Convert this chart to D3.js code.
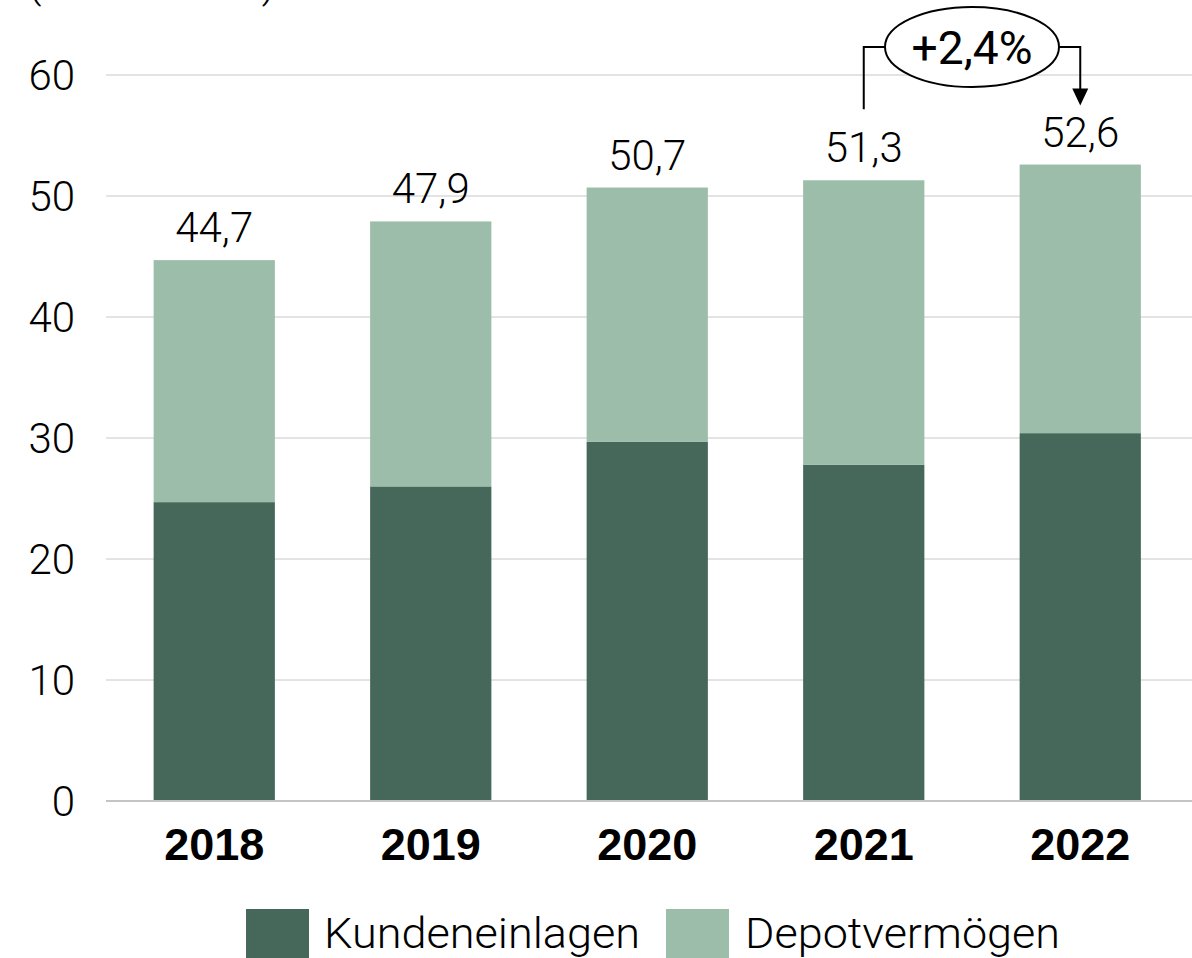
<!DOCTYPE html>
<html>
<head>
<meta charset="utf-8">
<script src="https://cdn.jsdelivr.net/npm/d3@7"></script>
<style>
  html, body { margin: 0; padding: 0; background: #fff; }
  svg { display: block; font-family: "Helvetica Neue", Roboto, "Liberation Sans", Arial, sans-serif; }
</style>
</head>
<body>
<svg id="chart" width="1192" height="958"></svg>
<script>
// data
var years = ["2018", "2019", "2020", "2021", "2022"];
var kundeneinlagen = [24.7, 26.0, 29.7, 27.8, 30.4];
var totals = [44.7, 47.9, 50.7, 51.3, 52.6];
var depotvermoegen = totals.map((t, i) => +(t - kundeneinlagen[i]).toFixed(1));
var yTicks = [0, 10, 20, 30, 40, 50, 60];
var seriesNames = ["Kundeneinlagen", "Depotvermögen"];
var growthLabel = "+2,4%";
var unitLabel = "(in Mrd. Euro)";

var colorDark = "#45685a";
var colorLight = "#9cbdaa";

var width = 1192;
var height = 958;

var svg = d3.select("#chart");

var x = d3.scaleBand()
  .domain(years)
  .range([106, 1188.5])
  .paddingInner(0.44)
  .paddingOuter(0.22);

var y = d3.scaleLinear()
  .domain([0, 60])
  .range([801, 75]);

var fmt = v => d3.format(".1f")(v).replace(".", ",");

// unit label, cut off at the very top like in the source
svg.append("text")
  .attr("x", 28)
  .attr("y", -3)
  .attr("font-size", 42)
  .attr("font-weight", 300)
  .attr("fill", "#000")
  .text(unitLabel);

// gridlines
svg.append("g")
  .selectAll("line")
  .data(yTicks.filter(d => d > 0))
  .enter().append("line")
  .attr("x1", 106)
  .attr("x2", width)
  .attr("y1", d => y(d))
  .attr("y2", d => y(d))
  .attr("stroke", "#c8c8c8")
  .attr("stroke-width", 1);

// y tick labels
svg.append("g")
  .selectAll("text")
  .data(yTicks)
  .enter().append("text")
  .attr("x", 75)
  .attr("y", d => y(d))
  .attr("dy", "0.36em")
  .attr("text-anchor", "end")
  .attr("font-size", 42)
  .attr("font-weight", 300)
  .attr("fill", "#000")
  .text(d => d);

// stacked bars
var stackData = years.map((yr, i) => ({ year: yr, Kundeneinlagen: kundeneinlagen[i], "Depotvermögen": depotvermoegen[i] }));
var stack = d3.stack().keys(seriesNames)(stackData);
var color = d3.scaleOrdinal().domain(seriesNames).range([colorDark, colorLight]);

svg.append("g")
  .selectAll("g")
  .data(stack)
  .enter().append("g")
  .attr("fill", d => color(d.key))
  .selectAll("rect")
  .data(d => d)
  .enter().append("rect")
  .attr("x", d => x(d.data.year))
  .attr("width", x.bandwidth())
  .attr("y", d => y(d[1]))
  .attr("height", d => y(d[0]) - y(d[1]));

// baseline
svg.append("line")
  .attr("x1", 106)
  .attr("x2", width)
  .attr("y1", y(0))
  .attr("y2", y(0))
  .attr("stroke", "#c4c4c4")
  .attr("stroke-width", 2);

// total labels
svg.append("g")
  .selectAll("text")
  .data(years)
  .enter().append("text")
  .attr("x", d => x(d) + x.bandwidth() / 2)
  .attr("y", (d, i) => y(totals[i]) - 18)
  .attr("text-anchor", "middle")
  .attr("font-size", 42)
  .attr("font-weight", 300)
  .attr("fill", "#000")
  .text((d, i) => fmt(totals[i]));

// year labels
svg.append("g")
  .selectAll("text")
  .data(years)
  .enter().append("text")
  .attr("x", d => x(d) + x.bandwidth() / 2)
  .attr("y", 860)
  .attr("text-anchor", "middle")
  .attr("font-size", 45)
  .attr("font-weight", 700)
  .attr("font-family", "'Liberation Sans', Arial, sans-serif")
  .attr("fill", "#000")
  .text(d => d);

// growth annotation 2021 -> 2022
var xa = x("2021") + x.bandwidth() / 2;
var xb = x("2022") + x.bandwidth() / 2;
var cx = 972, cy = 47, rx = 87, ry = 40;
var ann = svg.append("g");
ann.append("path")
  .attr("d", `M${xa},${y(totals[3]) - 71}V${cy}H${cx - rx}`)
  .attr("fill", "none")
  .attr("stroke", "#000")
  .attr("stroke-width", 2);
ann.append("path")
  .attr("d", `M${cx + rx},${cy}H${xb}V${y(totals[4]) - 66}`)
  .attr("fill", "none")
  .attr("stroke", "#000")
  .attr("stroke-width", 2);
var tipY = y(totals[4]) - 59;
ann.append("path")
  .attr("d", `M${xb - 8},${tipY - 17}L${xb + 8},${tipY - 17}L${xb},${tipY}Z`)
  .attr("fill", "#000");
ann.append("ellipse")
  .attr("cx", cx)
  .attr("cy", cy)
  .attr("rx", rx)
  .attr("ry", ry)
  .attr("fill", "#fff")
  .attr("stroke", "#000")
  .attr("stroke-width", 2);
ann.append("text")
  .attr("x", cx)
  .attr("y", cy)
  .attr("dy", "0.36em")
  .attr("text-anchor", "middle")
  .attr("font-size", 46)
  .attr("font-weight", 400)
  .attr("textLength", 121)
  .attr("lengthAdjust", "spacingAndGlyphs")
  .attr("fill", "#000")
  .text(growthLabel);

// legend
var legendItems = [
  { name: seriesNames[0], sx: 246, tx: 324, tw: 316 },
  { name: seriesNames[1], sx: 666, tx: 745, tw: 315 }
];
var legend = svg.append("g");
legend.selectAll("rect")
  .data(legendItems)
  .enter().append("rect")
  .attr("x", d => d.sx)
  .attr("y", 909)
  .attr("width", 63)
  .attr("height", 49)
  .attr("fill", d => color(d.name));
legend.selectAll("text")
  .data(legendItems)
  .enter().append("text")
  .attr("x", d => d.tx)
  .attr("y", 948)
  .attr("font-size", 43)
  .attr("font-weight", 300)
  .attr("textLength", d => d.tw)
  .attr("lengthAdjust", "spacingAndGlyphs")
  .attr("fill", "#000")
  .text(d => d.name);
</script>
</body>
</html>
